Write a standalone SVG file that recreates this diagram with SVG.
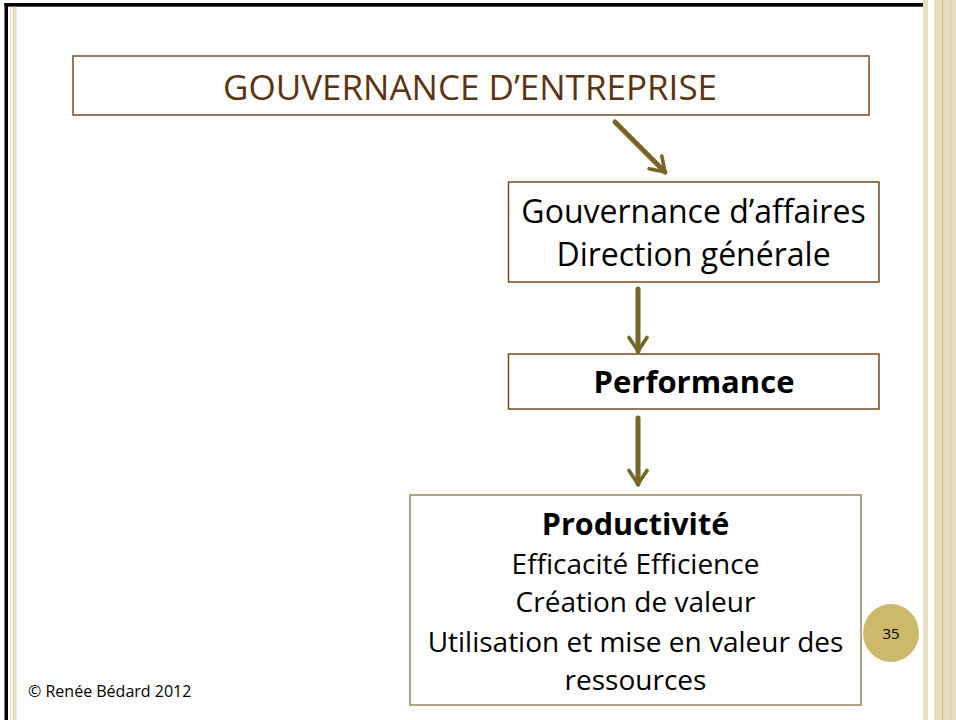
<svg xmlns="http://www.w3.org/2000/svg" width="956" height="720" viewBox="0 0 956 720">
<style>
.box{fill:#ffffff;stroke:#7a4a1c;stroke-width:1.5}
.box4{fill:#ffffff;stroke:#9c8060;stroke-width:1.5}
.t{font-family:"Open Sans","Liberation Sans",sans-serif;fill:#000;text-anchor:middle}
.b{font-weight:bold}
.conn{stroke:#776628;stroke-width:5;fill:none;stroke-linecap:round;stroke-linejoin:miter}
</style>
<defs>
<marker id="chev" viewBox="0 0 10 10" refX="8" refY="5" markerWidth="4.5" markerHeight="4.5" orient="auto" markerUnits="strokeWidth">
<polyline points="2,1 8,5 2,9" fill="none" stroke="#776628" stroke-width="1.6" stroke-linecap="round"/>
</marker>
</defs>
<rect x="0" y="0" width="956" height="720" fill="#ffffff"/>
<g id="frame">
<rect x="4.5" y="3" width="3.5" height="717" fill="#000"/>
<rect x="4.5" y="3" width="918.5" height="3.7" fill="#000"/>
<rect x="10" y="6.7" width="1.2" height="713.3" fill="#e6dcc0"/>
<rect x="12.7" y="6.7" width="4" height="713.3" fill="#e6dcc0"/>
<rect x="923.3" y="0" width="4.7" height="720" fill="#e6dcc0"/>
<rect x="934" y="0" width="22" height="720" fill="#e6dcc0"/>
<rect x="942" y="0" width="1.2" height="720" fill="#d8c27a"/>
<rect x="950" y="0" width="1" height="720" fill="#dcd0a8"/>
</g>
<g id="n1">
<rect class="box" x="73" y="56" width="796" height="59"/>
<text class="t" x="470" y="100" font-size="35" style="fill:#5c3412">GOUVERNANCE D’ENTREPRISE</text>
</g>
<g id="n2">
<rect class="box" x="508.5" y="182" width="370.5" height="100"/>
<text class="t" x="693.5" y="223" font-size="32">Gouvernance d’affaires</text>
<text class="t" x="693.5" y="266" font-size="32">Direction générale</text>
</g>
<g id="n3">
<rect class="box" x="508.5" y="354" width="370.5" height="55"/>
<text class="t b" x="694" y="393" font-size="31">Performance</text>
</g>
<g id="n4">
<rect class="box4" x="410" y="495" width="451" height="210"/>
<text class="t b" x="635.5" y="535" font-size="30.5">Productivité</text>
<text class="t" x="635.5" y="574" font-size="28">Efficacité Efficience</text>
<text class="t" x="635.5" y="612" font-size="28">Création de valeur</text>
<text class="t" x="635.5" y="652" font-size="28">Utilisation et mise en valeur des</text>
<text class="t" x="635.5" y="690" font-size="28">ressources</text>
</g>
<g id="page">
<ellipse cx="891" cy="633" rx="28" ry="29" fill="#ccb96a"/>
<text class="t" x="891" y="639" font-size="15">35</text>
</g>
<g id="footer">
<text x="28" y="697" font-family="'Open Sans','Liberation Sans',sans-serif" font-size="16" fill="#000">© Renée Bédard 2012</text>
</g>
<g id="connectors">
<line class="conn" x1="615" y1="122" x2="665" y2="172" marker-end="url(#chev)"/>
<line class="conn" x1="638" y1="289" x2="638" y2="351" marker-end="url(#chev)"/>
<line class="conn" x1="638" y1="418" x2="638" y2="484" marker-end="url(#chev)"/>
</g>
</svg>
